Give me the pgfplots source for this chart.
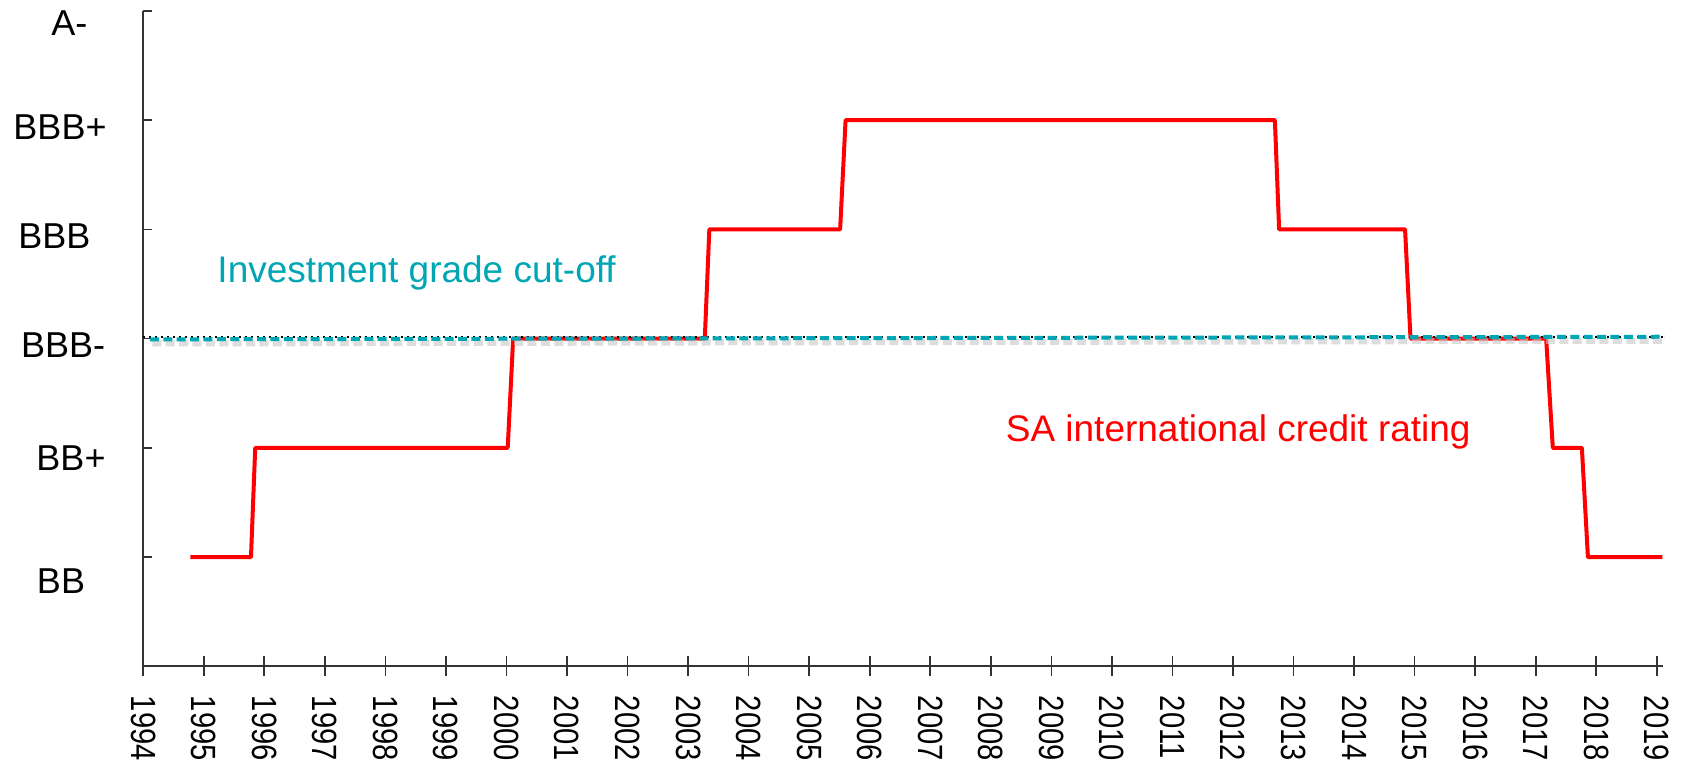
\documentclass[border=0pt]{standalone}
\usepackage{fontspec}
\setmainfont{Liberation Sans}
\usepackage{pgfplots}
\pgfplotsset{compat=1.18}
\definecolor{tealc}{RGB}{0,166,180}
\newcommand\yl[3]{\hspace*{#1}\makebox[0pt]{\raisebox{#2}[0pt][0pt]{#3}}\hspace*{-#1}}
\begin{document}
\begin{tikzpicture}
\path[use as bounding box] (0,0) rectangle (844pt,384.5pt);
\begin{axis}[
  at={(71.6pt,51.3pt)}, anchor=south west,
  scale only axis, width=759.9pt, height=327.8pt,
  xmin=1994, xmax=2019.1, ymin=0, ymax=6,
  axis x line=bottom, axis y line=left,
  axis line style={-, line width=1pt, black!80},
  xtick={1994,...,2019},
  ytick={1,...,6},
  yticklabels={\yl{-1.1pt}{-18.15pt}{BB},\yl{3.9pt}{-11.45pt}{BB+},\yl{0pt}{-9.45pt}{BBB-},\yl{-4.4pt}{-9.45pt}{BBB},\yl{-1.6pt}{-9.95pt}{BBB+},\yl{3.1pt}{-12.2pt}{A-}},
  tick align=center, major tick length=10pt,
  x tick style={line width=0.8pt, black!80},
  y tick style={draw=none},
  /pgf/number format/assume math mode=true,
  /pgf/number format/1000 sep={},
  xticklabel style={rotate=-90, yscale=1.2, anchor=west, inner sep=0pt, font=\fontsize{14.6}{14.6}\selectfont},
  xticklabel shift=9.5pt,
  yticklabel style={anchor=center, inner sep=0pt, xshift=-35pt, font=\fontsize{18}{18}\selectfont},
  clip=false,
]
\pgfplotsinvokeforeach{1,...,6}{\draw[line width=0.8pt, black!80] (axis cs:1994,#1) -- ([xshift=4.5pt]axis cs:1994,#1);}
\addplot[red, line width=2pt, line join=round] coordinates {
(1994.78,1) (1995.78,1) (1995.85,2) (2000.02,2) (2000.11,3) (2003.275,3) (2003.35,4)
(2005.51,4) (2005.60,5) (2012.69,5) (2012.76,4) (2014.84,4) (2014.93,3) (2017.17,3)
(2017.28,2) (2017.76,2) (2017.86,1) (2019.09,1)};
\addplot[gray!45, opacity=0.6, line width=3pt, dash pattern=on 4.5pt off 2.2pt] coordinates {(1994.15,2.955) (2019.1,2.98)};
\addplot[black, line width=0.9pt, dash pattern=on 1pt off 2pt] coordinates {(1994,3.017) (2019.12,3.017)};
\addplot[tealc, line width=2pt, dash pattern=on 4.5pt off 2.2pt] coordinates {(1994.11,2.993) (2019.12,3.017)};
\node[anchor=base west, inner sep=0pt, text=tealc, font=\fontsize{18.5}{18.5}\selectfont] at (axis cs:1995.22,3.511) {Investment grade cut-off};
\node[anchor=base west, inner sep=0pt, text=red, font=\fontsize{18.5}{18.5}\selectfont] at (axis cs:2008.24,2.056) {SA international credit rating};
\end{axis}
\end{tikzpicture}
\end{document}
